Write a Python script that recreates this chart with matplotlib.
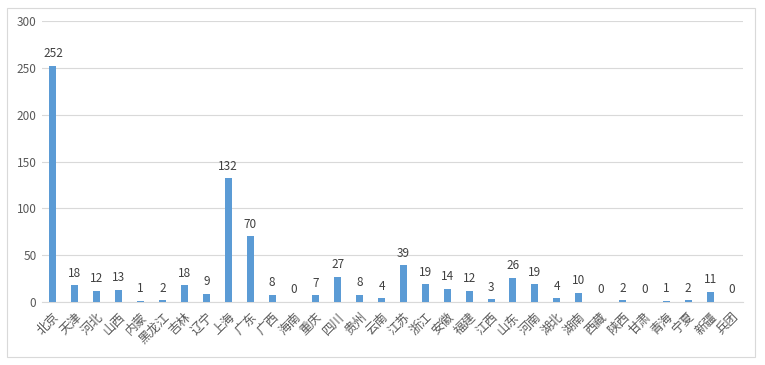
import matplotlib
matplotlib.use("Agg")
import matplotlib.pyplot as plt
from matplotlib.patches import Rectangle

plt.rcParams['font.family'] = ['Noto Sans CJK SC', 'DejaVu Sans']

categories = ["北京", "天津", "河北", "山西", "内蒙", "黑龙江", "吉林", "辽宁", "上海", "广东",
              "广西", "海南", "重庆", "四川", "贵州", "云南", "江苏", "浙江", "安徽", "福建",
              "江西", "山东", "河南", "湖北", "湖南", "西藏", "陕西", "甘肃", "青海", "宁夏",
              "新疆", "兵团"]
values = [252, 18, 12, 13, 1, 2, 18, 9, 132, 70,
          8, 0, 7, 27, 8, 4, 39, 19, 14, 12,
          3, 26, 19, 4, 10, 0, 2, 0, 1, 2,
          11, 0]
yticks = [0, 50, 100, 150, 200, 250, 300]

fig = plt.figure(figsize=(7.65, 3.65), dpi=100)
fig.patch.set_facecolor('white')
fig.add_artist(Rectangle((7/765, 8/365), 748/765, 349/365, transform=fig.transFigure,
                         fill=False, edgecolor='#d9d9d9', linewidth=0.8))
ax = fig.add_axes([42/765, 1-302/365, 701/765, 281/365])

x = list(range(len(categories)))
bars = ax.bar(x, values, width=0.32, color='#5B9BD5', zorder=3)
for xi, v in zip(x, values):
    ax.text(xi, v + 6, str(v), ha='center', va='bottom', fontsize=8.5, color='#404040')

ax.set_xlim(-0.5, len(categories) - 0.5)
ax.set_ylim(0, 300)
ax.set_yticks(yticks)
ax.set_yticklabels([str(t) for t in yticks], fontsize=8.5, color='#595959')
ax.yaxis.grid(True, color='#d9d9d9', linewidth=0.8, zorder=0)
ax.set_xticks(x)
ax.set_xticklabels(categories, rotation=45, ha='right', rotation_mode='anchor',
                   fontsize=9, color='#595959')
ax.tick_params(axis='x', length=0, pad=6)
ax.tick_params(axis='y', length=0, pad=4)
for s in ['top', 'right', 'left']:
    ax.spines[s].set_visible(False)
ax.spines['bottom'].set_color('#d9d9d9')
ax.spines['bottom'].set_linewidth(0.8)

fig.savefig('out.png', dpi=100)
